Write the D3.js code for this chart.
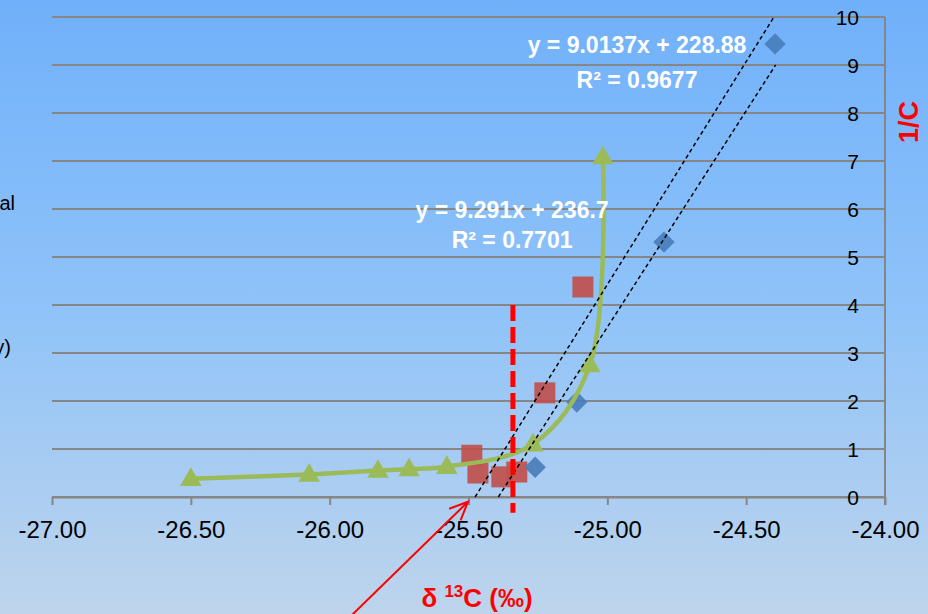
<!DOCTYPE html>
<html>
<head>
<meta charset="utf-8">
<script src="https://cdn.jsdelivr.net/npm/d3@7"></script>
<style>
  html, body { margin: 0; padding: 0; }
  body { width: 928px; height: 614px; overflow: hidden; }
  svg { display: block; font-family: "Liberation Sans", Arial, sans-serif; }
</style>
</head>
<body>
<div id="chart"></div>
<script>
// series (x = d13C, y = 1/C)
const blueX = [-25.26, -25.11, -24.796, -24.396];
const blueY = [0.62, 1.98, 5.31, 9.44];

const redX = [-25.488, -25.466, -25.38, -25.326, -25.225, -25.088];
const redY = [0.87, 0.5, 0.42, 0.52, 2.17, 4.375];

const greenX = [-26.5, -26.074, -25.826, -25.714, -25.578, -25.268, -25.063, -25.016];
const greenY = [0.38, 0.47, 0.55, 0.58, 0.63, 1.1, 2.75, 7.08];

// linear trends shown on the chart
const trendSlopes = [9.0137, 9.291];
const trendIntercepts = [228.88, 236.7];
const trendTopY = [9.0, 10];
const trendText = [['y = 9.0137x + 228.88', 'R² = 0.9677'], ['y = 9.291x + 236.7', 'R² = 0.7701']];
const trendTextX = [-24.893, -25.343];
const trendTextY = [[9.42, 8.69], [5.98, 5.35]];

const xTicks = [-27, -26.5, -26, -25.5, -25, -24.5, -24];
const yTicks = [0, 1, 2, 3, 4, 5, 6, 7, 8, 9, 10];

// annotations (data units)
const cutoffX = -25.34;
const cutoffY = [-0.33, 4.0];
const arrowFrom = [-25.927, -2.5];
const arrowTo = [-25.502, -0.1];

const margin = { top: 17, right: 43, bottom: 117, left: 52 };
const W = 928, H = 614;
const width = W - margin.left - margin.right;
const height = H - margin.top - margin.bottom;

const x = d3.scaleLinear().domain([-27, -24]).range([0, width]);
const y = d3.scaleLinear().domain([0, 10]).range([height, 0]);

const svg = d3.select('#chart').append('svg')
    .attr('width', W)
    .attr('height', H);

const defs = svg.append('defs');
const grad = defs.append('linearGradient')
    .attr('id', 'bg')
    .attr('x1', 0).attr('y1', 0).attr('x2', 0).attr('y2', 1);
grad.append('stop').attr('offset', '0%').attr('stop-color', '#70b0fa');
grad.append('stop').attr('offset', '50%').attr('stop-color', '#8fc3f9');
grad.append('stop').attr('offset', '100%').attr('stop-color', '#bed4ec');

svg.append('rect')
    .attr('width', W)
    .attr('height', H)
    .attr('fill', 'url(#bg)');

// text cut off at the left edge, as in the source slide
svg.append('text')
    .attr('x', 15).attr('y', 210)
    .attr('text-anchor', 'end')
    .style('font-size', '20px')
    .text('al');
svg.append('text')
    .attr('x', 11).attr('y', 354)
    .attr('text-anchor', 'end')
    .style('font-size', '20px')
    .text('y)');

const g = svg.append('g')
    .attr('transform', `translate(${margin.left},${margin.top})`);

// gridlines
g.append('g')
    .selectAll('line')
    .data(yTicks)
  .enter().append('line')
    .attr('x1', 0)
    .attr('x2', width)
    .attr('y1', d => y(d))
    .attr('y2', d => y(d))
    .attr('stroke', '#868686')
    .attr('stroke-width', 2);

// x axis
const xAxis = d3.axisBottom(x)
    .tickValues(xTicks)
    .tickSize(8)
    .tickSizeOuter(0)
    .tickPadding(16);

const gx = g.append('g')
    .attr('transform', `translate(0,${height})`)
    .call(xAxis);
gx.select('.domain').attr('stroke', '#868686').attr('stroke-width', 2);
gx.selectAll('.tick line').attr('stroke', '#868686').attr('stroke-width', 2);
gx.selectAll('.tick text')
    .attr('fill', '#000')
    .style('font-size', '24px')
    .style('font-family', '"Liberation Sans", Arial, sans-serif')
    .text(d => d.toFixed(2));

// y axis on the right, labels sitting inside
const gy = g.append('g');
gy.append('line')
    .attr('x1', width).attr('x2', width)
    .attr('y1', 0).attr('y2', height + 8)
    .attr('stroke', '#868686')
    .attr('stroke-width', 2);
gy.selectAll('text')
    .data(yTicks)
  .enter().append('text')
    .attr('x', width - 26)
    .attr('y', d => y(d))
    .attr('dy', '0.36em')
    .attr('text-anchor', 'end')
    .style('font-size', '21px')
    .text(d => d);

// axis titles
svg.append('text')
    .attr('transform', 'translate(918,122) rotate(-90)')
    .attr('text-anchor', 'middle')
    .attr('fill', '#ff0000')
    .style('font-size', '27px')
    .style('font-weight', 'bold')
    .text('1/C');

const xTitle = svg.append('text')
    .attr('x', 477)
    .attr('y', 607)
    .attr('text-anchor', 'middle')
    .attr('fill', '#ff0000')
    .style('font-size', '26px')
    .style('font-weight', 'bold');
xTitle.append('tspan').text('δ ');
xTitle.append('tspan').attr('dy', -10).style('font-size', '17px').text('13');
xTitle.append('tspan').attr('dy', 10).text('C (‰)');

// red squares
g.append('g')
    .selectAll('rect')
    .data(redX.map((d, i) => [d, redY[i]]))
  .enter().append('rect')
    .attr('x', d => x(d[0]) - 10.5)
    .attr('y', d => y(d[1]) - 10.5)
    .attr('width', 21)
    .attr('height', 21)
    .attr('fill', '#c0504d')
    .attr('fill-opacity', 0.92);

// blue diamonds
g.append('g')
    .selectAll('path')
    .data(blueX.map((d, i) => [d, blueY[i]]))
  .enter().append('path')
    .attr('d', d3.symbol(d3.symbolSquare, 230))
    .attr('transform', d => `translate(${x(d[0])},${y(d[1])}) rotate(45)`)
    .attr('fill', '#4a7ebb')
    .attr('fill-opacity', 0.92);

// green smoothed line with triangles
const greenPts = greenX.map((d, i) => [d, greenY[i]]);
g.append('path')
    .datum(greenPts)
    .attr('fill', 'none')
    .attr('stroke', '#9bbb59')
    .attr('stroke-width', 4.5)
    .attr('d', d3.line()
        .x(d => x(d[0]))
        .y(d => y(d[1]))
        .curve(d3.curveCatmullRom.alpha(0.5)));

g.append('g')
    .selectAll('path')
    .data(greenPts)
  .enter().append('path')
    .attr('d', d3.symbol(d3.symbolTriangle, 200))
    .attr('transform', d => `translate(${x(d[0])},${y(d[1]) + 1})`)
    .attr('fill', '#9bbb59');

// trend lines (dotted)
trendSlopes.forEach((m, i) => {
  const b = trendIntercepts[i];
  const x0 = -b / m;
  const x1 = (trendTopY[i] - b) / m;
  g.append('line')
      .attr('x1', x(x0)).attr('y1', y(0))
      .attr('x2', x(x1)).attr('y2', y(trendTopY[i]))
      .attr('stroke', '#000')
      .attr('stroke-width', 1.5)
      .attr('stroke-dasharray', '4,3');
});

// trend equations
trendText.forEach((lines, i) => {
  lines.forEach((t, j) => {
    g.append('text')
        .attr('x', x(trendTextX[i]))
        .attr('y', y(trendTextY[i][j]))
        .attr('dy', '0.35em')
        .attr('text-anchor', 'middle')
        .attr('fill', '#fff')
        .style('font-size', '23px')
        .style('font-weight', 'bold')
        .text(t);
  });
});

// red dashed cutoff line
g.append('line')
    .attr('x1', x(cutoffX)).attr('x2', x(cutoffX))
    .attr('y1', y(cutoffY[1])).attr('y2', y(cutoffY[0]))
    .attr('stroke', '#ff0000')
    .attr('stroke-width', 5)
    .attr('stroke-dasharray', '16,6');

// red arrow
const ax0 = x(arrowFrom[0]), ay0 = y(arrowFrom[1]);
const ax1 = x(arrowTo[0]), ay1 = y(arrowTo[1]);
const ang = Math.atan2(ay1 - ay0, ax1 - ax0);
const head = 20, spread = 0.42;
g.append('line')
    .attr('x1', ax0).attr('y1', ay0)
    .attr('x2', ax1).attr('y2', ay1)
    .attr('stroke', '#ff0000')
    .attr('stroke-width', 2);
g.append('path')
    .attr('d', `M${ax1 - head * Math.cos(ang - spread)},${ay1 - head * Math.sin(ang - spread)}`
      + `L${ax1},${ay1}`
      + `L${ax1 - head * Math.cos(ang + spread)},${ay1 - head * Math.sin(ang + spread)}`)
    .attr('fill', 'none')
    .attr('stroke', '#ff0000')
    .attr('stroke-width', 2);
</script>
</body>
</html>
